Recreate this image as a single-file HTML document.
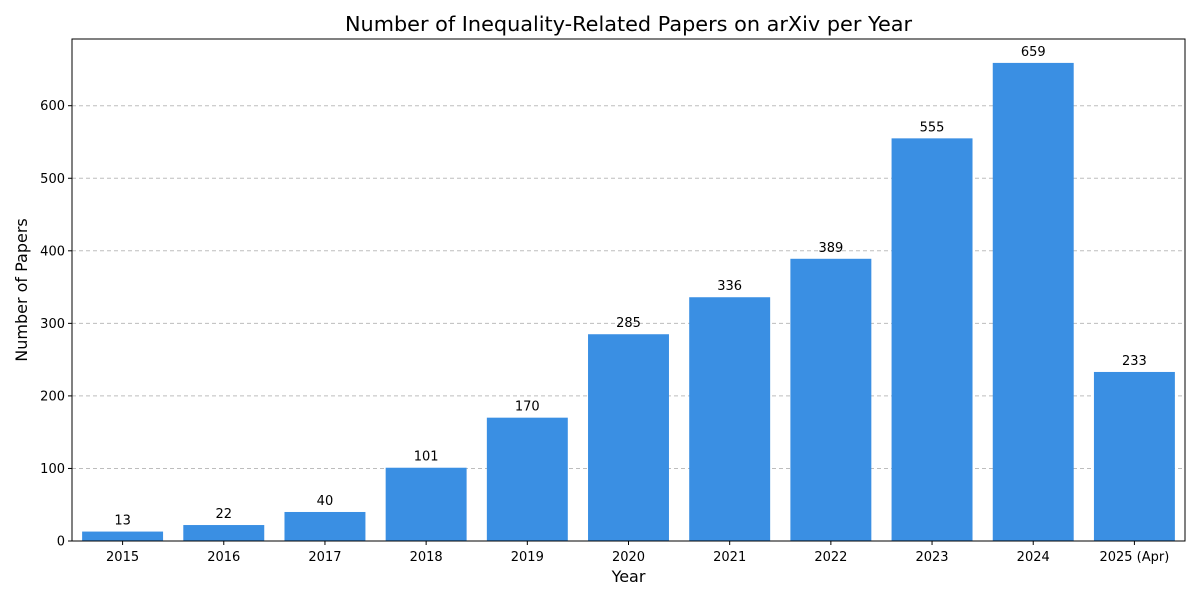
<!DOCTYPE html>
<html><head><meta charset="utf-8"><style>
body{margin:0;background:#fff;}
svg{display:block;font-family:"DejaVu Sans","Liberation Sans",sans-serif;}
</style></head><body>
<svg id="chart" width="1200" height="600">
<rect width="1200" height="600" fill="#fff"/>
<text x="628.5" y="31" text-anchor="middle" font-size="20.8">Number of Inequality-Related Papers on arXiv per Year</text>
<text x="628.5" y="582" text-anchor="middle" font-size="16">Year</text>
<text transform="translate(27,290) rotate(-90)" text-anchor="middle" font-size="16">Number of Papers</text>
<g id="grid"></g><g id="bars"></g><g id="labels"></g><g id="xt"></g><g id="yt"></g>
<rect x="72" y="39" width="1113" height="502" fill="none" stroke="#000" stroke-width="1"/>
</svg>
<script>
const categories=["2015","2016","2017","2018","2019","2020","2021","2022","2023","2024","2025 (Apr)"];
const values=[13,22,40,101,170,285,336,389,555,659,233];
const yTicks=[0,100,200,300,400,500,600];
const L=72,R=1185,T=39,B=541;
const yMax=Math.max(...values)*1.05;
const y=v=>B-(v/yMax)*(B-T);
const step=(R-L)/categories.length;
const xc=i=>L+step*(i+0.5);
const NS="http://www.w3.org/2000/svg";
function mk(tag,attrs,parent){const e=document.createElementNS(NS,tag);for(const k in attrs)e.setAttribute(k,attrs[k]);document.getElementById(parent).appendChild(e);return e;}
yTicks.forEach(t=>{
  const g=mk("line",{x1:L,x2:R,y1:y(t),y2:y(t),stroke:"#bdbdbd","stroke-dasharray":"4,3","stroke-width":1},"grid");
  
  
  const tk=mk("line",{x1:L-4,x2:L,y1:y(t),y2:y(t),stroke:"#000"},"yt");
  
  
  const tx=mk("text",{x:L-7,y:y(t)+4.5,"text-anchor":"end","font-size":13},"yt");
  tx.textContent=t;
  
  
});
const bw=step*0.8;
categories.forEach((c,i)=>{
  const v=values[i];
  const r=mk("rect",{x:xc(i)-bw/2,y:y(v),width:bw,height:B-y(v),fill:"#3a8fe3"},"bars");
  
  
  const l=mk("text",{x:xc(i),y:y(v)-7,"text-anchor":"middle","font-size":13},"labels");
  l.textContent=v;
  
  
  const tk=mk("line",{x1:xc(i),x2:xc(i),y1:B,y2:B+4,stroke:"#000"},"xt");
  
  
  const tx=mk("text",{x:xc(i),y:B+20,"text-anchor":"middle","font-size":13},"xt");
  tx.textContent=c;
  
  
});
</script>
</body></html>
